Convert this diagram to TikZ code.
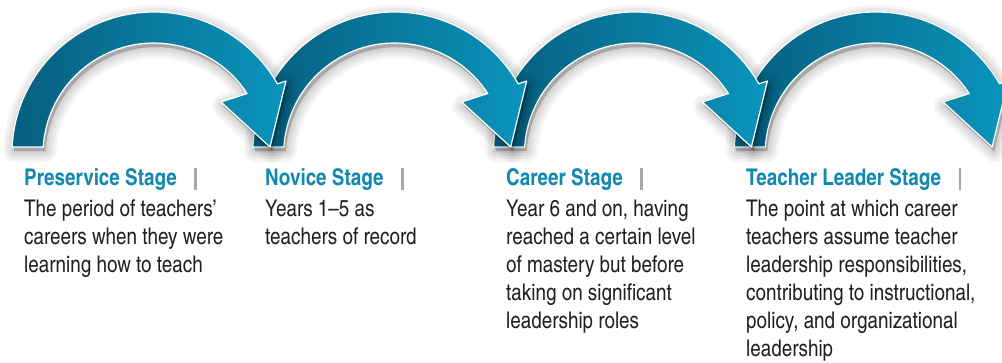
\documentclass[tikz,border=0pt]{standalone}
\usepackage{fontspec}
\setmainfont{texgyreheroscn}[Extension=.otf, UprightFont=*-regular, BoldFont=*-bold, ItalicFont=*-italic, BoldItalicFont=*-bolditalic]
\definecolor{tealdark}{RGB}{6,94,126}
\definecolor{tealmid}{RGB}{8,122,156}
\definecolor{teallight}{RGB}{10,148,188}
\definecolor{headblue}{RGB}{16,136,176}
\definecolor{bodytext}{RGB}{35,31,32}
\definecolor{sepgray}{RGB}{165,168,170}
\newcommand\arrowpath{(177.2:142pt) arc[start angle=177.2, end angle=29.6, radius=142pt] -- (132pt,73pt) -- (116pt,7pt) -- (67pt,52pt) -- (33:111pt) arc[start angle=33, end angle=176.4, radius=111pt] -- cycle}
\newcommand\linesof[1]{\begin{tabular}[t]{@{}l@{}}#1\end{tabular}}
\tikzset{
  arrowbody/.style={left color=tealdark, middle color=tealmid, right color=teallight, draw=white, line width=1.2pt, line join=round},
  shadowlayer/.style={black, opacity=0.045, line join=round},
  head/.style={inner sep=0pt, anchor=base west, text=headblue, font=\fontsize{23}{28}\selectfont\bfseries},
  bodytxt/.style={inner sep=0pt, anchor=base west, text=bodytext, font=\fontsize{23}{28}\selectfont},
  sepbar/.style={inner sep=0pt, anchor=base west}
}
\newcommand\stagearrow[1]{%
  \begin{scope}[shift={(#1pt,208pt)}]
    \begin{scope}[shift={(2pt,-4pt)}]
      \foreach \w in {22,16,10,5,1}{%
        \fill[shadowlayer] \arrowpath;
        \draw[shadowlayer, line width=\w pt] \arrowpath;
      }
    \end{scope}
    \shade[arrowbody] \arrowpath;
  \end{scope}}
\begin{document}
\begin{tikzpicture}[x=1pt,y=1pt]
\useasboundingbox (0,0) rectangle (1002,362);
\fill[white] (0,0) rectangle (1002,362);
% arrows, drawn right to left so each head lies over the next foot
\stagearrow{876.1}
\stagearrow{635.4}
\stagearrow{394.7}
\stagearrow{154}
% headings
\node[head] (h1) at (24,176) {Preservice Stage};
\node[head] (h2) at (265,176) {Novice Stage};
\node[head] (h3) at (506,176) {Career Stage};
\node[head] (h4) at (746,176) {Teacher Leader Stage};
\foreach \i in {1,2,3,4}{
  \node[sepbar] (s\i) at ([xshift=17pt]h\i.base east) {\color{sepgray}\rule[-4pt]{2.6pt}{22pt}};
}
% descriptions
\node[bodytxt] (b1) at (24,145) {\linesof{The period of teachers'\\careers when they were\\learning how to teach}};
\node[bodytxt] (b2) at (265,145) {\linesof{Years 1--5 as\\teachers of record}};
\node[bodytxt] (b3) at (506,145) {\linesof{Year 6 and on, having\\reached a certain level\\of mastery but before\\taking on significant\\leadership roles}};
\node[bodytxt] (b4) at (746,145) {\linesof{The point at which career\\teachers assume teacher\\leadership responsibilities,\\contributing to instructional,\\policy, and organizational\\leadership}};
\end{tikzpicture}
\end{document}
